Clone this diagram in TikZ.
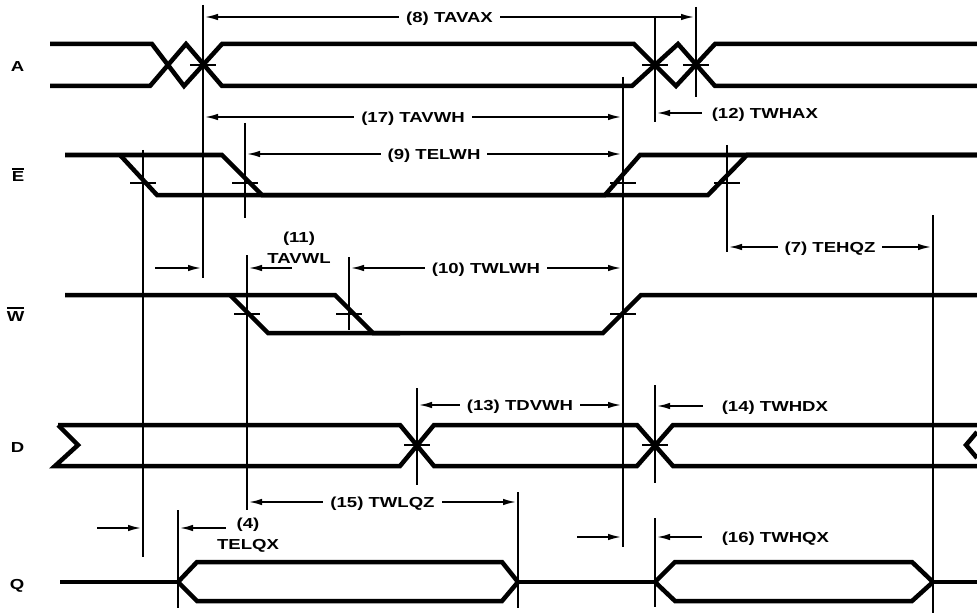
\documentclass[tikz,border=0pt]{standalone}
\usepackage{fontspec}
\setmainfont{Liberation Sans}[FakeStretch=1.28]
\usepackage{tikz}
\usetikzlibrary{arrows.meta}

% active-low signal name
\newcommand{\lowname}[1]{\setbox0=\hbox{#1}\rlap{\rule[\dimexpr\ht0+2.5pt\relax]{\wd0}{1.6pt}}\box0}

\begin{document}
\begin{tikzpicture}[x=1pt, y=-1pt,
	sig/.style={line width=4.5pt, line join=miter},
	refline/.style={line width=1.6pt},
	tick/.style={line width=1.6pt},
	dim/.style={line width=1.6pt, {Latex[length=13pt,width=6.5pt]}-{Latex[length=13pt,width=6.5pt]}, shorten <=2pt, shorten >=2pt},
	dimto/.style={line width=1.6pt, {Latex[length=13pt,width=6.5pt]}-, shorten <=2pt},
	txt/.style={font=\bfseries\fontsize{14.5}{21}\selectfont, inner sep=0pt},
	lbl/.style={txt, yshift=-2pt},
	dimlbl/.style={lbl, fill=white, inner xsep=7pt, inner ysep=1pt},
	signame/.style={txt, anchor=base east}]

	\useasboundingbox (0,0) rectangle (977,615);

	% signal names
	\node[signame] (name A) at (24.5,72) {A};
	\node[signame] (name E) at (24.5,182) {\lowname{E}};
	\node[signame] (name W) at (24.5,321) {\lowname{W}};
	\node[signame] (name D) at (24.5,452) {D};
	\node[signame] (name Q) at (24.5,589) {Q};

	% reference lines
	\foreach \n/\x/\ya/\yb in {e early/143/150/557, a valid/203/5/278, e late/245/123/218,
			w early/247/255/510, w late/349/257/330, w high/623/77/547, d valid/417/388/485,
			q off/518/492/608, a hold/655/18/122, d hold/655/385/483, q on/655/518/607,
			a next/696/7/97, e high/727/145/252, q end/933/215/613, q start/178/510/608}
		\draw[refline] (\x,\ya) coordinate (\n) -- (\x,\yb);

	% A
	\draw[sig] (50,44) -- (152,44) -- (184,86) -- (222,44) -- (634,44) -- (676,86) -- (715,44) -- (977,44);
	\draw[sig] (50,86) -- (150,86) -- (186,44) -- (222,86) -- (632,86) -- (678,44) -- (715,86) -- (977,86);
	% E
	\draw[sig] (65,155) -- (222,155) -- (262,195) -- (708,195) -- (747,155) -- (977,155);
	\draw[sig] (120,155) -- (157,195) -- (605,195) -- (640,155) -- (977,155);
	% W
	\draw[sig] (65,295) -- (335,295) -- (373,333) -- (603,333) -- (641,295) -- (977,295);
	\draw[sig] (230,295) -- (268,333) -- (400,333);
	% D
	\draw[sig] (58,425) -- (78,445) -- (55,466) -- (400,466) -- (434,425) -- (637,425) -- (673,466) -- (977,466);
	\draw[sig] (58,425) -- (400,425) -- (434,466) -- (637,466) -- (673,425) -- (977,425);
	\draw[sig] (977,432) -- (966,445) -- (977,458);
	% Q
	\draw[sig] (60,582) -- (178,582);
	\draw[sig] (178,582) -- (197,562) -- (502,562) -- (518,582) -- (502,601) -- (197,601) -- cycle;
	\draw[sig] (518,582) -- (655,582);
	\draw[sig] (655,582) -- (675,562) -- (912,562) -- (933,582) -- (912,601) -- (675,601) -- cycle;
	\draw[sig] (933,582) -- (977,582);

	% ticks where the reference lines cross
	\foreach \r/\y in {a valid/65, a hold/65, a next/65, e early/183, e late/183, w high/183,
			e high/183, w early/314, w late/314, w high/314, d valid/445, d hold/445}
		\draw[tick] (\r |- 0,\y) +(-13,0) -- +(13,0);

	% timing parameters
	\draw[dim] (a valid |- 0,17) -- node[dimlbl] (tavax) {(8) TAVAX} (a next |- 0,17);
	\draw[dim] (a valid |- 0,117) -- node[dimlbl] (tavwh) {(17) TAVWH} (w high |- 0,117);
	\draw[dimto] (a hold |- 0,113) -- ++(47,0) node[lbl, anchor=west, xshift=9pt] (twhax) {(12) TWHAX};
	\draw[dim] (e late |- 0,154) -- node[dimlbl] (telwh) {(9) TELWH} (w high |- 0,154);

	\draw[dimto] (a valid |- 0,268) -- ++(-48,0);
	\draw[dimto] (w early |- 0,268) -- ++(45,0);
	\node[lbl, align=center] (tavwl) at (299,246) {(11)\\TAVWL};
	\draw[dim] (w late |- 0,268) -- node[dimlbl] (twlwh) {(10) TWLWH} (w high |- 0,268);
	\draw[dim] (e high |- 0,247) -- node[dimlbl] (tehqz) {(7) TEHQZ} (q end |- 0,247);

	\draw[dim] (d valid |- 0,405) -- node[dimlbl] (tdvwh) {(13) TDVWH} (w high |- 0,405);
	\draw[dimto] (d hold |- 0,406) -- ++(48,0) node[lbl, anchor=west, xshift=18pt] (twhdx) {(14) TWHDX};
	\draw[dim] (w early |- 0,502) -- node[dimlbl] (twlqz) {(15) TWLQZ} (q off |- 0,502);

	\draw[dimto] (e early |- 0,528) -- ++(-46,0);
	\draw[dimto] (q start |- 0,528) -- ++(48,0);
	\node[lbl, align=center] (telqx) at (248,533) {(4)\\TELQX};
	\draw[dimto] (w high |- 0,537) -- ++(-46,0);
	\draw[dimto] (q on |- 0,537) -- ++(47,0) node[lbl, anchor=west, xshift=19pt] (twhqx) {(16) TWHQX};

\end{tikzpicture}
\end{document}
